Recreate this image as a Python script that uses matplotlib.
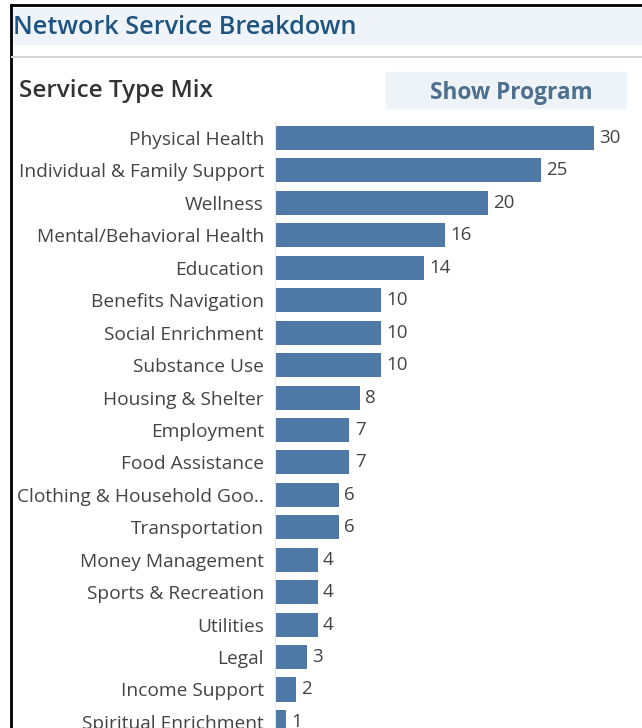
import matplotlib.pyplot as plt
from matplotlib.patches import Rectangle
from matplotlib.lines import Line2D

categories = ["Physical Health", "Individual & Family Support", "Wellness",
              "Mental/Behavioral Health", "Education", "Benefits Navigation",
              "Social Enrichment", "Substance Use", "Housing & Shelter",
              "Employment", "Food Assistance", "Clothing & Household Goo..",
              "Transportation", "Money Management", "Sports & Recreation",
              "Utilities", "Legal", "Income Support", "Spiritual Enrichment"]
counts = [30, 25, 20, 16, 14, 10, 10, 10, 8, 7, 7, 6, 6, 4, 4, 4, 3, 2, 1]

W, H = 642, 728
plt.rcParams['font.family'] = ['Open Sans', 'Noto Sans', 'DejaVu Sans']
fig = plt.figure(figsize=(W / 100, H / 100), dpi=100)

def fx(px):
    return px / W

def fy(py):
    return 1 - py / H

# frame and header band
fig.patches.append(Rectangle((fx(12), fy(44)), fx(630), (36) / H,
                             transform=fig.transFigure, color="#eef4f9", zorder=0))
fig.lines.append(Line2D([fx(11), fx(11)], [fy(5), 0], transform=fig.transFigure,
                        color="black", lw=2))
fig.lines.append(Line2D([fx(11), 1], [fy(5), fy(5)], transform=fig.transFigure,
                        color="black", lw=2))
fig.lines.append(Line2D([fx(12), 1], [fy(57), fy(57)], transform=fig.transFigure,
                        color="#d4d4d4", lw=1.5))
fig.text(fx(13), fy(27), "Network Service Breakdown", fontsize=18.2, color="#1f5380",
         va="center", ha="left", fontweight="semibold")
fig.text(fx(19), fy(91), "Service Type Mix", fontsize=17.5, color="#333333",
         va="center", ha="left", fontweight="semibold")
fig.patches.append(Rectangle((fx(386), fy(108)), fx(240), 36 / H,
                             transform=fig.transFigure, color="#eef3f8", zorder=0))
fig.text(fx(511), fy(93), "Show Program", fontsize=16.3, color="#4f6f8f",
         va="center", ha="center", fontweight="bold")

# bar chart
top_px, row = 121.8, 32.44
n = len(categories)
ax = fig.add_axes([fx(275), fy(top_px + row * n), fx(594 - 275), row * n / H])
y = list(range(n))
ax.barh(y, counts, height=0.74, color="#4e79a7")
ax.set_xlim(0, 30)
ax.set_ylim(n - 0.5, -0.5)
ax.set_yticks(y)
ax.set_yticklabels(categories, fontsize=13.8, color="#444444")
ax.tick_params(axis="y", length=0, pad=8)
ax.set_xticks([])
for s in ["top", "right", "bottom"]:
    ax.spines[s].set_visible(False)
ax.spines["left"].set_color("#e6e6e6")
for yi, v in zip(y, counts):
    ax.text(v + 0.5, yi, str(v), va="center", ha="left", fontsize=13.5,
            color="#444444", clip_on=False)

fig.savefig("out.png", dpi=100)
